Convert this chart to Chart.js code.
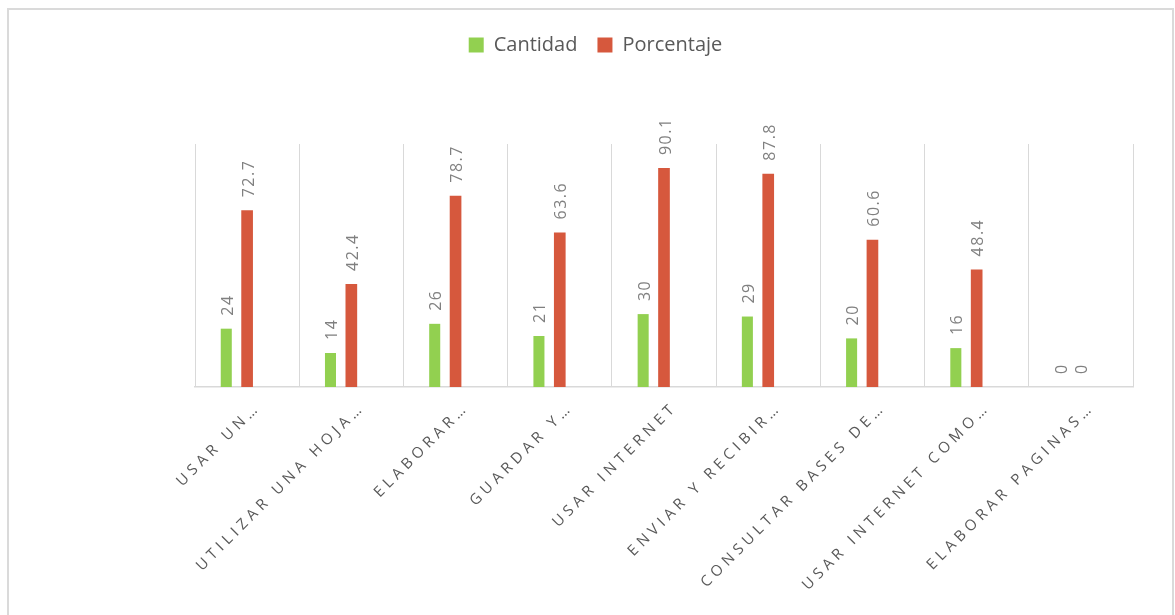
<!DOCTYPE html>
<html>
<head>
<meta charset="utf-8">
<script src="https://cdn.jsdelivr.net/npm/chart.js@4"></script>
<style>
  html, body { margin: 0; padding: 0; background: #fff; }
  #marco { position: absolute; left: 7px; top: 8px; width: 1167px; height: 640px; border: 2px solid #dadada; box-sizing: border-box; }
  #grafico { position: absolute; left: 0; top: 0; }
</style>
</head>
<body>
<div id="marco"></div>
<canvas id="grafico" width="1175" height="615"></canvas>
<script>
// === DONNÉES ===
const categorias = [
  "USAR UN…", "UTILIZAR UNA HOJA…", "ELABORAR…", "GUARDAR Y…", "USAR INTERNET",
  "ENVIAR Y RECIBIR…", "CONSULTAR BASES DE…", "USAR INTERNET COMO…", "ELABORAR PAGINAS…"
];
const cantidad = [24, 14, 26, 21, 30, 29, 20, 16, 0];
const porcentaje = [72.7, 42.4, 78.7, 63.6, 90.1, 87.8, 60.6, 48.4, 0];
// serie vacía (tercer hueco del grupo, como en el original)
const hueco = [null, null, null, null, null, null, null, null, null];

const GRIS = "#d9d9d9";

// === ETIQUETAS DE DATOS (verticales) ===
const rotulosPlugin = {
  id: "rotulos",
  afterDatasetsDraw(chart) {
    const ctx = chart.ctx;
    ctx.save();
    ctx.font = '16px "Open Sans"';
    ctx.fillStyle = "#808080";
    ctx.letterSpacing = "1.5px";
    ctx.textAlign = "left";
    ctx.textBaseline = "middle";
    [0, 1].forEach(di => {
      const meta = chart.getDatasetMeta(di);
      meta.data.forEach((barra, i) => {
        const v = chart.data.datasets[di].data[i];
        const txt = di === 1 && v !== 0 ? v.toFixed(1) : String(v);
        ctx.save();
        ctx.translate(barra.x + 2, barra.y - 13);
        ctx.rotate(-Math.PI / 2);
        ctx.fillText(txt, 0, 0);
        ctx.restore();
      });
    });
    ctx.restore();
  }
};

// === ETIQUETAS DEL EJE X (45°, espaciadas) ===
const ejeXPlugin = {
  id: "ejeX",
  afterDraw(chart) {
    const ctx = chart.ctx;
    const ejeX = chart.scales.x;
    ctx.save();
    ctx.font = '15px "Open Sans"';
    ctx.fillStyle = "#595959";
    ctx.letterSpacing = "4.5px";
    ctx.textAlign = "right";
    ctx.textBaseline = "alphabetic";
    categorias.forEach((t, i) => {
      const x = ejeX.getPixelForValue(i);
      ctx.save();
      ctx.translate(x + 14, chart.chartArea.bottom + 21);
      ctx.rotate(-Math.PI / 4);
      ctx.fillText(t, 0, 0);
      ctx.restore();
    });
    ctx.restore();
  }
};

// === ESPACIO DE LA LEYENDA ===
const leyendaPlugin = {
  id: "leyendaAlto",
  beforeInit(chart) {
    const fitOrig = chart.legend.fit;
    chart.legend.fit = function () {
      fitOrig.bind(chart.legend)();
      this.height = 144 - 15;
    };
  }
};

new Chart(document.getElementById("grafico"), {
  type: "bar",
  data: {
    labels: categorias,
    datasets: [
      { label: "Cantidad", data: cantidad, backgroundColor: "#92d050", barPercentage: 0.53, categoryPercentage: 0.6 },
      { label: "Porcentaje", data: porcentaje, backgroundColor: "#d6583d", barPercentage: 0.56, categoryPercentage: 0.6 },
      { label: "", data: hueco, backgroundColor: "transparent", barPercentage: 0.53, categoryPercentage: 0.6 }
    ]
  },
  options: {
    responsive: false,
    animation: false,
    layout: { padding: { top: 15, left: 16, right: 0, bottom: 228 } },
    scales: {
      x: {
        ticks: { display: false },
        grid: { color: GRIS, lineWidth: 1, drawTicks: false },
        border: { color: GRIS, width: 1.5 }
      },
      y: {
        min: 0, max: 100,
        ticks: { display: false },
        grid: { display: false },
        border: { display: false },
        afterFit: s => { s.width = 179; }
      },
      yDer: {
        position: "right",
        min: 0, max: 100,
        ticks: { display: false },
        grid: { display: false },
        border: { display: false },
        afterFit: s => { s.width = 42; }
      }
    },
    plugins: {
      legend: {
        position: "top",
        labels: {
          boxWidth: 15,
          boxHeight: 15,
          padding: 20,
          color: "#595959",
          font: { family: "Open Sans", size: 20 },
          filter: item => item.text !== ""
        }
      },
      tooltip: { enabled: false }
    }
  },
  plugins: [rotulosPlugin, ejeXPlugin, leyendaPlugin]
});
</script>
</body>
</html>
